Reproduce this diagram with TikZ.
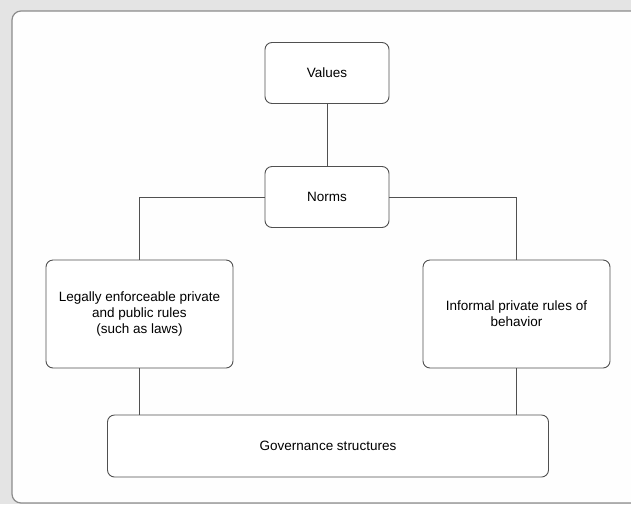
\documentclass[tikz,border=0pt]{standalone}
\usepackage{fontspec}
\setmainfont{Liberation Sans}
\usetikzlibrary{positioning}
\definecolor{boxline}{HTML}{505050}
\definecolor{frameline}{HTML}{8C8C8C}
\definecolor{screen}{HTML}{E4E4E4}

\begin{document}
\begin{tikzpicture}[x=1pt,y=-1pt,
  box/.style={draw=boxline,rounded corners=7pt,fill=white,align=center,
    inner sep=0pt,line width=0.9pt,font=\fontsize{13.5}{16}\selectfont},
  link/.style={draw=boxline,line width=0.9pt}]
\useasboundingbox (0,0) rectangle (631,504);
\fill[screen] (0,0) rectangle (631,504);
\draw[frameline,line width=1.2pt,rounded corners=9pt,fill=white!99!gray]
  (12,11) rectangle (650,503);
\node[box,minimum width=124pt,minimum height=61pt] (values) at (327,73) {Values};
\node[box,minimum width=124pt,minimum height=61pt] (norms) at (327,197) {Norms};
\node[box,minimum width=187pt,minimum height=108pt] (legal) at (139.5,314)
  {Legally enforceable private\\and public rules\\(such as laws)};
\node[box,minimum width=187pt,minimum height=108pt] (informal) at (516.5,314)
  {Informal private rules of\\behavior};
\node[box,minimum width=441pt,minimum height=62pt] (gov) at (328,446)
  {Governance structures};
\draw[link] (values) -- (norms);
\draw[link] (norms.west) -| (legal.north);
\draw[link] (norms.east) -| (informal.north);
\draw[link] (legal.south) -- (legal.south |- gov.north);
\draw[link] (informal.south) -- (informal.south |- gov.north);
\end{tikzpicture}
\end{document}
